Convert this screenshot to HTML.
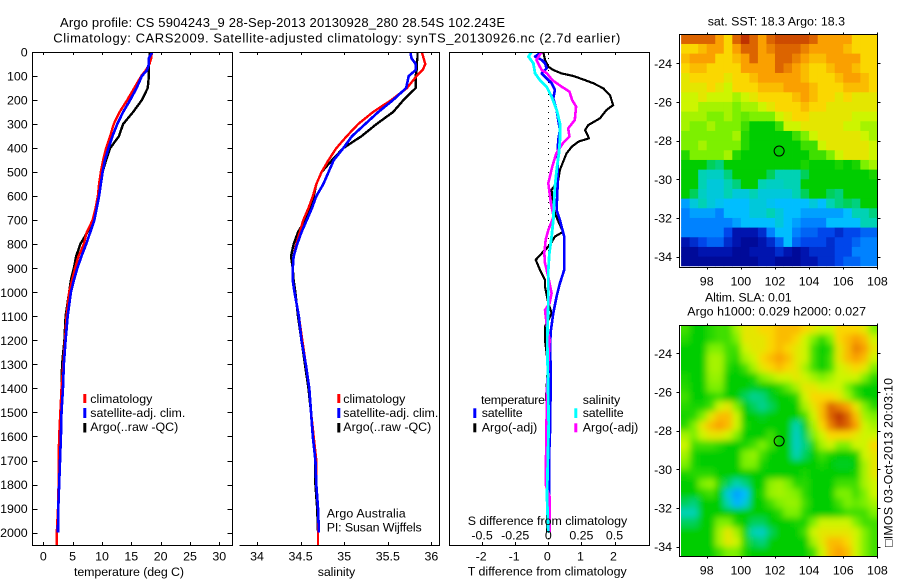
<!DOCTYPE html>
<html lang="en">
<head>
<meta charset="utf-8">
<title>Argo profile 5904243_9</title>
<style>
html,body{margin:0;padding:0;background:#fff;}
svg{display:block;}
text{font-family:"Liberation Sans",Arial,sans-serif;font-size:12.4px;fill:#000;}
text.title{font-size:13px;}
</style>
</head>
<body>
<svg id="figure" xmlns="http://www.w3.org/2000/svg" width="900" height="580" viewBox="0 0 900 580">
<defs>
<clipPath id="clip-sst"><rect x="681" y="34.3" width="196.4" height="232"/></clipPath>
<clipPath id="clip-sla"><rect x="681" y="325.9" width="196.4" height="230.5"/></clipPath>
<clipPath id="clip-p1"><rect x="33" y="52" width="199" height="493"/></clipPath>
<clipPath id="clip-p2"><rect x="239.5" y="52" width="200" height="493"/></clipPath>
<clipPath id="clip-p3"><rect x="449.5" y="52" width="200" height="493"/></clipPath>
<filter id="sla-blur" filterUnits="userSpaceOnUse" x="640" y="290" width="260" height="290"><feGaussianBlur stdDeviation="3.2"/></filter>
</defs>
<rect x="0" y="0" width="900" height="580" fill="#fff"/>
<text class="title" x="60" y="27" textLength="445" lengthAdjust="spacing">Argo profile: CS 5904243_9 28-Sep-2013 20130928_280 28.54S 102.243E</text>
<text class="title" x="53.3" y="42.5" textLength="567" lengthAdjust="spacing">Climatology: CARS2009. Satellite-adjusted climatology: synTS_20130926.nc (2.7d earlier)</text>

<g id="series-layer"></g>
<g id="axes-layer"></g>
<g id="map-layer"></g>

<text x="74" y="576" textLength="110" lengthAdjust="spacing">temperature (deg C)</text>
<text x="317.7" y="576" textLength="37.5" lengthAdjust="spacing">salinity</text>
<text x="467.7" y="575.7" textLength="159" lengthAdjust="spacing">T difference from climatology</text>
<text x="467.7" y="525" textLength="159.5" lengthAdjust="spacing">S difference from climatology</text>

<g>
<rect x="83.3" y="394" width="3" height="9" fill="#f00"/>
<rect x="83.3" y="408" width="3" height="10" fill="#00f"/>
<rect x="83.3" y="423" width="3" height="9.5" fill="#000"/>
<text x="90.3" y="403" textLength="62" lengthAdjust="spacing">climatology</text>
<text x="90.3" y="417" textLength="95" lengthAdjust="spacing">satellite-adj. clim.</text>
<text x="90.3" y="431" textLength="88" lengthAdjust="spacing">Argo(..raw -QC)</text>
</g>
<g>
<rect x="337.3" y="394" width="3" height="9" fill="#f00"/>
<rect x="337.3" y="408" width="3" height="10" fill="#00f"/>
<rect x="337.3" y="423" width="3" height="9.5" fill="#000"/>
<text x="343.3" y="403" textLength="62" lengthAdjust="spacing">climatology</text>
<text x="343.3" y="417" textLength="95" lengthAdjust="spacing">satellite-adj. clim.</text>
<text x="343.3" y="431" textLength="88" lengthAdjust="spacing">Argo(..raw -QC)</text>
</g>
<text x="326.7" y="517.3" textLength="79" lengthAdjust="spacing">Argo Australia</text>
<text x="326.7" y="531.7" textLength="95" lengthAdjust="spacing">PI: Susan Wijffels</text>

<g>
<text x="481" y="404" textLength="64" lengthAdjust="spacing">temperature</text>
<text x="582.7" y="404" textLength="37.5" lengthAdjust="spacing">salinity</text>
<rect x="473.3" y="408.3" width="3" height="9.7" fill="#00f"/>
<rect x="473.3" y="423.3" width="3" height="9" fill="#000"/>
<rect x="574.3" y="408.3" width="3" height="9.7" fill="#0ff"/>
<rect x="574.3" y="423.3" width="3" height="9" fill="#f0f"/>
<text x="481.7" y="417" textLength="41" lengthAdjust="spacing">satellite</text>
<text x="481.7" y="431.7" textLength="55.6" lengthAdjust="spacing">Argo(-adj)</text>
<text x="582.7" y="417" textLength="41" lengthAdjust="spacing">satellite</text>
<text x="582.7" y="431.7" textLength="55.6" lengthAdjust="spacing">Argo(-adj)</text>
</g>

<text x="707.7" y="25.3" textLength="137.3" lengthAdjust="spacing">sat. SST: 18.3 Argo: 18.3</text>
<text x="705" y="301.7" textLength="86.7" lengthAdjust="spacing">Altim. SLA: 0.01</text>
<text x="687.3" y="315.7" textLength="178.7" lengthAdjust="spacing">Argo h1000: 0.029 h2000: 0.027</text>
<text transform="translate(892.5,547) rotate(-90)" x="0" y="0" textLength="169" lengthAdjust="spacing">□IMOS 03-Oct-2013 20:03:10</text>
</svg>

<script>
// ---- Profile panels: shared depth grid (m) ----
const profileDepths = [0,25,50,75,100,150,200,250,300,350,400,450,500,550,600,650,700,750,800,850,900,950,1000,1100,1200,1300,1400,1500,1600,1700,1800,1900,2000,2055];

// Temperature (deg C)
const tempClimatology = [18.5,18.4,18.1,17.5,16.7,15.5,14.3,13.0,12.0,11.4,10.7,10.2,9.8,9.5,9.3,8.9,8.4,7.4,6.9,6.0,5.4,4.9,4.4,3.95,3.7,3.4,3.1,2.9,2.7,2.6,2.6,2.5,2.3,2.3];
const tempSatellite = [18.6,18.0,18.0,17.7,16.8,15.9,14.8,13.6,12.6,11.8,11.1,10.5,10.1,9.8,9.5,9.1,8.7,8.0,7.3,6.5,5.8,5.2,4.7,4.15,3.8,3.5,3.35,3.1,3.0,2.85,2.7,2.55,2.5];
const tempArgo = [18.2,18.1,18.0,18.0,18.0,17.8,16.8,15.3,13.6,12.9,11.4,10.7,10.1,9.8,9.5,9.1,8.7,7.5,6.3,5.6,5.2,4.7,4.4,3.8,3.6,3.2,3.1,2.95,2.85,2.6,2.7,2.5,2.4];

// Salinity
const salClimatology = [35.89,35.91,35.93,35.90,35.83,35.72,35.54,35.33,35.16,35.03,34.91,34.82,34.74,34.68,34.64,34.59,34.53,34.49,34.45,34.42,34.41,34.41,34.43,34.48,34.52,34.56,34.6,34.62,34.65,34.68,34.68,34.7,34.7,34.7];
const salSatellite = [35.76,35.77,35.82,35.82,35.74,35.71,35.56,35.39,35.24,35.09,34.99,34.88,34.82,34.76,34.68,34.63,34.57,34.51,34.46,34.42,34.41,34.41,34.43,34.48,34.51,34.56,34.6,34.62,34.64,34.67,34.68,34.7,34.71];
const salArgo = [35.84,35.84,35.83,35.83,35.82,35.82,35.68,35.56,35.37,35.2,34.99,34.86,34.74,34.68,34.65,34.61,34.55,34.47,34.42,34.39,34.41,34.42,34.44,34.47,34.51,34.55,34.59,34.62,34.64,34.67,34.67,34.69,34.7];

// Differences from climatology
const dtArgoDepths = [0,33,61,75,89,100,117,130,151,179,221,241,276,304,325,359,373,394,422,491,533,574,630,671,720,748,768,803,838,865,907,949,976,1046,1087,1143,1198,1300,1420,1650,1700,2000];
const dtArgo = [-0.15,-0.1,0,0.15,0.4,0.76,1.11,1.36,1.66,1.86,1.96,1.76,1.56,1.21,1.11,1.23,0.91,0.71,0.55,0.35,0.3,0.1,0.12,0.2,0.35,0.45,0.2,0.05,-0.2,-0.38,-0.25,-0.1,-0.1,0,0.1,-0.1,-0.1,-0.01,-0.06,-0.05,-0.06,-0.03];
const dtSatDepths = [0,19,33,47,68,89,110,130,158,193,241,283,325,366,422,491,560,657,699,768,907,963,1018,1087,1157,1198,1365,1550,1700,1850,2000];
const dtSat = [-0.2,-0.4,-0.2,-0.1,-0.05,-0.2,-0.05,0.1,0.2,0.15,0.25,0.3,0.35,0.3,0.28,0.28,0.28,0.25,0.35,0.48,0.48,0.35,0.25,0.15,0.08,0.06,0.07,0.06,0.02,0.02,0.04];
const dsArgoDepths = [0,33,75,89,117,144,165,200,227,283,318,352,380,422,477,546,630,685,741,782,838,879,935,1004,1046,1074,1143,1198,1400,1800,1850,2000];
const dsArgo = [-0.05,-0.09,-0.05,-0.01,0.03,0.1,0.16,0.18,0.21,0.2,0.15,0.16,0.11,0.06,0.03,0,0.02,0.04,0,-0.02,-0.03,-0.025,0,0.025,0.01,-0.025,-0.01,0.01,-0.01,-0.02,0.01,0.01];
const dsSatDepths = [0,19,47,89,117,144,186,241,297,366,422,491,560,630,699,768,838,907,1046,1198,1365,1545,1850,2000];
const dsSat = [-0.126,-0.15,-0.113,-0.1,-0.063,-0.013,0.025,0.063,0.088,0.088,0.08,0.063,0.05,0.043,0.038,0.025,0.008,0,0,-0.008,-0.003,0.003,-0.01,0];

// Tick labels
const depthTicks = [0,100,200,300,400,500,600,700,800,900,1000,1100,1200,1300,1400,1500,1600,1700,1800,1900,2000];
const tempTicks = [0,5,10,15,20,25,30];
const salTicks = [34,34.5,35,35.5,36];
const dtTicks = [-2,-1,0,1,2];
const dsTicks = [-0.5,-0.25,0,0.25,0.5];
const lonTicks = [98,100,102,104,106,108];
const latTicks = [-24,-26,-28,-30,-32,-34];

// Float position
const argoLon = 102.243;
const argoLat = -28.54;

// SST map, colour levels on 0.5 degree cells (north to south)
const sstGrid = [
[11,11,11,11,10,9,11,12,11,10,11,11.5,11.5,11.5,11.5,11,10,10,10,10,9,9,9],
[9,9,9.5,10,10,9,10,11,11,10,10.5,11,11,11,10.5,10,10,10,10,9.5,9,9,9],
[9.5,10,10,10,9,9,9.5,10,11,10,10,11,11,10.5,10,9.5,9.5,10,10,10,10,9,9],
[9,9.5,9.5,9,9,9,9,10,10,10,10,11,10.5,10,9.5,9,9,9.5,10,10,9.5,9,9],
[8.5,9,9,9,9,8.5,9,9,9.5,10,10,10,10,10,9.5,9,9,9,9.5,10,10,9.5,9],
[8.5,8.5,8.5,9,8.5,8,9,9,9,9.5,9.5,9.5,10,10,10,9.5,9,9,9,9.5,9.5,9.5,9],
[8,8,8.5,8,8,8,7.5,8,8.5,9,9,9,9,9.5,10,9.5,9,9,8.5,9,8.5,8.5,8.5],
[8,8,7.5,7.5,7.5,7.5,7,7.5,7.5,8,8.5,9,9,9,9.5,9,9,8.5,8.5,8.5,8.5,8.5,8.5],
[7.5,7.5,7.5,7,7,7.5,7,6.8,7,7,7,8,8.5,9,9,8.5,8.5,8.5,8.5,8.5,8,8,8],
[7.5,7,7,7.5,7,7,7,6.5,6,6,6,6.5,8,8,8.5,8.5,8.5,8.5,8.5,8,8,7.5,7.5],
[7,7,7,7,7,7,7.5,6.3,6,6,6,6,6,6.5,7,8,8.5,8.5,8.5,8.5,8.5,8,7.5],
[7,7,7.5,7,7,7,7,6.3,6,6,6,6,6,6,6.5,6.5,8,8.5,8.5,8.5,8.5,8.5,8],
[6.3,7,7,7,7,7.5,6.3,6,6,6,6,6,6,6,6,6.5,6.5,7,8,8.5,8.5,8.5,8],
[6,6,6,5.5,5.3,6,6,6,6,6,6,6,6,6,6.2,6,6,6,6.2,6,6.2,7,7.5],
[6,6,5,4.8,4.8,5.3,6,6,6,6,5.5,5,5,5,5.5,6,6,6,6,6,6,6,6.2],
[6,6,5,4.5,4.5,5,5.3,6,6,5,4.8,4.8,5,5,6,6,6,6,6,6,6,6,6],
[6,5.5,4.8,4.5,4.5,5,4.5,4.5,5,4.5,4.5,4.5,4.5,5,5.5,6,6,5.5,5.3,6,6,6,6],
[3.5,4.5,5,4.5,4.2,4,4,4,4.5,4.5,4.2,4,4,4,4,4.5,4,5,5.3,5.5,5.3,6,6],
[3,3.5,3.5,3.5,3,4,4,4,4.5,4.5,5,4.5,4,4,3.5,3.5,3.5,3.5,3.5,4,5,5,5.3],
[3,3,3,3,3,3,3.5,4,4,4,4,4.5,4,3.5,3,3,3,4,4,4,4,5,5],
[3,3,3,3,3,2,1,1,1,1.5,3,4,4,3,2.5,2.5,2,2,1.5,2,2,2.5,2.5],
[1,1.5,2,2.5,2.5,1.5,1,0.5,0.5,1,1.5,2.5,4,2.5,2,2,2,1.5,2,2,2.5,3,3],
[0.5,0.5,1,1,1,1,0.5,0.5,1,1,1,1.5,1,0.5,1,1.5,1.5,1.5,2,2,3,3,3],
[0.5,0.5,0.5,0.5,0.5,0.5,0.5,0.5,0.5,1,1,0.5,0.5,0.5,1,1,1.5,1.5,2,2.5,2.5,3,3]
];

// Sea level anomaly map, colour levels on 0.5 degree cells (north to south)
const slaGrid = [
[6.5,6,6,6.3,6.5,6.5,7.5,8.5,8.5,9,9,9.5,9.5,9.5,9,8.5,8,8,9,9,9,8.5,7],
[6.3,6,6,6.3,6.5,6.5,7,8.5,8.5,8.5,9,9.5,9.5,9,8,7,6.3,7,9,9.5,10,9.5,8],
[6,6,6,7,7,6.5,6.5,8,8.5,8.5,9,9.5,9,8.5,8,6.5,6,6.3,8.5,9.5,10.5,10,8.5],
[6,6,6,7.5,7.5,6.5,6.3,7.5,8,9,9.5,10,9.5,8.5,8,6.5,6,6.5,8.5,9.5,10,9.5,8],
[6,6,6,7.5,7.5,6.3,6,6.5,7.5,8.5,9,9.5,9,8.5,7.5,6.5,6,6.5,8,8.5,9,8.5,7],
[6.2,6,6,7.3,7.3,6,6,6,6.2,7,7.5,8,8,8.5,8,7.5,7,7.5,8,8,8,7,6.3],
[6.3,6,6,7,7,6,6,6,5.8,6,6,6.3,6.8,7.5,8.5,8.5,8,8,8,7,6.3,6,6],
[6.5,6,6,6.3,6.5,6,6,5.5,5.2,5.3,5.8,6,6,6.3,8,9,9,9,8.5,7.5,6.5,6,6],
[6.3,6.2,6.2,6.5,8,8.5,7,6,5.5,5.2,5.5,6,6,6,7.5,8.5,9.5,11,10.5,10,8.5,7,6.3],
[6.2,6.3,7,8.5,9.5,9.5,8,6,6,5.8,6,6,6,6,6.5,8,9.5,11,12,11,9.5,7.5,7],
[6.3,7,8.5,9.5,10,9.5,8,6.2,6,6,6,6,6,5,5.8,7.5,9,10.5,11.5,11,10,8,7.5],
[7.5,7,8,8.5,8.5,8,7,6,6,6,6.5,6,6,4.8,5.5,7,8,9,9,9,8.5,8,8],
[8,6.5,6.5,6.5,6.3,6,6,6.2,6.5,7,6.5,6,6,4.8,5.3,6.3,7.5,8,7,7,8,8,9],
[7.5,6.2,6,6,6,6,6,7,7.3,6.5,6,6,6,5,5.5,6,6.5,6.2,6,6,6.2,8,8.5],
[7,6.2,6,6,6,6,6,7,7,6.2,6,6,6,6,6,6,6.2,6,5.8,5.8,6,7.5,8.5],
[6.2,6.3,6.3,6.3,6,6,6,6,6,6,6,6,6,6,6.2,6,6,6,6,6,6.2,7.5,8.5],
[6,6,7,7.3,6.3,5.5,5,5.3,6,6,7.2,7.5,7,6.3,6.3,6,6,6,6.5,6.5,6.5,7.5,8],
[6,6,6.3,6.5,6,4.5,3.5,4,6,6.2,7.3,7.5,7.3,7,6.3,6,6,6,7,7,6.5,7,8],
[5.5,5.3,6,6,6,5,3.8,4.5,6,6,6.5,7,7.3,7.3,6.5,6,6,6,6.5,7,6.8,7,7.5],
[5,5,6,6,6,6,6,6,6,6,6,6.3,7,7,6.3,6,6,6,6.2,6.5,6.5,6.5,7],
[5.5,5.5,6,6,7,7,6.2,6,5.5,5.5,6,6,6,6.2,6.2,7,8,8,8,8,7,6.5,6.5],
[6,6,6,6,7.5,8.5,7.5,6.2,5,4.8,5.5,6,6,6,6.5,8,8.5,8.5,8.5,8.5,8,7,6.5],
[6,6,6,6,7.5,8.5,8,6.3,5.5,5.3,6,6,6,6,6,7.5,8.5,9.5,9.5,9,8,7,6.5],
[6,6,6,6,6.5,7,7,6.2,6,6,6,6,6,6,6,6.5,8,9.5,10,9.5,8,7,6.5]
];

// Colour levels 0..12
const colourStops = [[0,0,130],[0,20,175],[0,70,235],[0,130,255],[0,190,255],[0,210,180],[0,205,0],[125,240,0],[205,245,0],[250,215,0],[250,160,0],[220,100,0],[190,50,0]];

const SVGNS = 'http://www.w3.org/2000/svg';
const seriesLayer = document.getElementById('series-layer');
const axesLayer = document.getElementById('axes-layer');
const mapLayer = document.getElementById('map-layer');

// Axis functions
const panelTop = 52, panelBottom = 545;
function yDepth(d){ return 52 + d * 0.2403; }
function xTemp(t){ return 43.3 + t * 5.867; }
function xSal(s){ return 257 + (s - 34) * 87.2; }
function xDT(t){ return 548.3 + t * 33.1; }
function xDS(s){ return 548.3 + s * 132.4; }
function xLon(l){ return 706.7 + (l - 98) * 17.07; }
function ySst(l){ return 63.3 + (-24 - l) * 19.33; }
function ySla(l){ return 353.3 + (-24 - l) * 19.33; }

function make(tag, attrs, parent){
  const e = document.createElementNS(SVGNS, tag);
  for (const k in attrs) e.setAttribute(k, attrs[k]);
  parent.appendChild(e);
  return e;
}
function colour(v){
  const clamped = Math.max(0, Math.min(colourStops.length - 1, v));
  const i = Math.min(colourStops.length - 2, Math.floor(clamped));
  const f = clamped - i;
  const a = colourStops[i], b = colourStops[i + 1];
  return 'rgb(' + [0,1,2].map(function(k){ return Math.round(a[k] + (b[k] - a[k]) * f); }).join(',') + ')';
}
function tickLine(parent, x1, y1, x2, y2){
  const t = make('line', {x1:x1, y1:y1, x2:x2, y2:y2, stroke:'#000', 'stroke-width':1, 'shape-rendering':'crispEdges'}, parent);
  
  
  return t;
}
function tickText(parent, x, y, label, anchor){
  const t = make('text', {x:x, y:y, 'text-anchor':anchor}, parent);
  t.textContent = label;
  
  
  return t;
}
function drawProfile(name, depths, values, xFn, color, width, clip){
  const n = Math.min(depths.length, values.length);
  const pts = [];
  for (let i = 0; i < n; i++) pts.push(xFn(values[i]).toFixed(2) + ',' + yDepth(depths[i]).toFixed(2));
  const p = make('polyline', {points:pts.join(' '), fill:'none', stroke:color, 'stroke-width':width, 'stroke-linejoin':'round', 'shape-rendering':'crispEdges', 'clip-path':'url(#' + clip + ')'}, seriesLayer);
  
  
}

// Zero reference in the difference panel
const zeroLine = make('line', {x1:xDT(0), y1:panelTop, x2:xDT(0), y2:panelBottom, stroke:'#000', 'stroke-width':1, 'stroke-dasharray':'1 5', 'shape-rendering':'crispEdges'}, seriesLayer);



// Series
drawProfile('temperature-argo-line', profileDepths, tempArgo, xTemp, '#000', 2.4, 'clip-p1');
drawProfile('temperature-climatology-line', profileDepths, tempClimatology, xTemp, '#f00', 2.4, 'clip-p1');
drawProfile('temperature-satellite-line', profileDepths, tempSatellite, xTemp, '#00f', 2.6, 'clip-p1');
drawProfile('salinity-argo-line', profileDepths, salArgo, xSal, '#000', 2.4, 'clip-p2');
drawProfile('salinity-climatology-line', profileDepths, salClimatology, xSal, '#f00', 2.4, 'clip-p2');
drawProfile('salinity-satellite-line', profileDepths, salSatellite, xSal, '#00f', 2.6, 'clip-p2');
drawProfile('t-difference-argo-line', dtArgoDepths, dtArgo, xDT, '#000', 2.2, 'clip-p3');
drawProfile('t-difference-satellite-line', dtSatDepths, dtSat, xDT, '#00f', 2.6, 'clip-p3');
drawProfile('s-difference-argo-line', dsArgoDepths, dsArgo, xDS, '#f0f', 2.6, 'clip-p3');
drawProfile('s-difference-satellite-line', dsSatDepths, dsSat, xDS, '#0ff', 2.8, 'clip-p3');

// Panel frames
function hLine(parent, name, x1, x2, y){
  const l = make('line', {x1:x1, y1:y, x2:x2, y2:y, stroke:'#000', 'stroke-width':1, 'shape-rendering':'crispEdges'}, parent);
  
  
}
function vLine(parent, name, x, y1, y2){
  const l = make('line', {x1:x, y1:y1, x2:x, y2:y2, stroke:'#000', 'stroke-width':1, 'shape-rendering':'crispEdges'}, parent);
  
  
}
hLine(axesLayer, 'temperature-panel-top', 32.5, 232.5, 52.5);
hLine(axesLayer, 'temperature-panel-bottom', 32.5, 232.5, 545.5);
vLine(axesLayer, 'temperature-panel-left', 32.5, 52, 546);
vLine(axesLayer, 'temperature-panel-right', 232.5, 52, 546);
hLine(axesLayer, 'salinity-panel-top', 239.5, 439.5, 52.5);
hLine(axesLayer, 'salinity-panel-bottom', 239.5, 439.5, 545.5);
vLine(axesLayer, 'salinity-panel-right', 439.5, 52, 546);
hLine(axesLayer, 'difference-panel-top', 449.5, 649.5, 52.5);
hLine(axesLayer, 'difference-panel-bottom', 449.5, 649.5, 545.5);
vLine(axesLayer, 'difference-panel-left', 449.5, 52, 546);
vLine(axesLayer, 'difference-panel-right', 649.5, 52, 546);

// Depth ticks
depthTicks.forEach(function(d){
  const y = Math.round(yDepth(d)) + 0.5;
  tickLine(axesLayer, 32.5, y, 37.5, y);
  tickLine(axesLayer, 227.5, y, 232.5, y);
  tickText(axesLayer, 27.7, yDepth(d) + 4.5, String(d), 'end');
});
// Temperature ticks
tempTicks.forEach(function(t){
  const x = Math.round(xTemp(t)) + 0.5;
  tickLine(axesLayer, x, 52, x, 55);
  tickLine(axesLayer, x, 542, x, 545);
  tickText(axesLayer, xTemp(t), 560.7, String(t), 'middle');
});
// Salinity ticks
salTicks.forEach(function(s){
  const x = Math.round(xSal(s)) + 0.5;
  tickLine(axesLayer, x, 52, x, 55);
  tickLine(axesLayer, x, 542, x, 545);
  tickText(axesLayer, xSal(s), 560.7, String(s), 'middle');
});
// Difference ticks
dtTicks.forEach(function(t){
  const x = Math.round(xDT(t)) + 0.5;
  tickLine(axesLayer, x, 52, x, 55);
  tickLine(axesLayer, x, 542, x, 545);
  tickText(axesLayer, xDT(t) - 1, 560.3, String(t), 'middle');
});
dsTicks.forEach(function(s){
  tickText(axesLayer, xDS(s), 539.3, String(s), 'middle');
});

// Maps
function drawMap(name, grid, yFn, clipId, blur){
  const clip = make('g', {'clip-path':'url(#' + clipId + ')'}, mapLayer);
  
  
  const cells = make('g', blur ? {filter:'url(#sla-blur)'} : {}, clip);
  grid.forEach(function(row, r){
    row.forEach(function(v, c){
      const lonW = 96.5 + c * 0.5, latN = -22.5 - r * 0.5;
      let x0 = xLon(lonW), x1 = xLon(lonW + 0.5), y0 = yFn(latN), y1 = yFn(latN - 0.5);
      if (blur) {
        if (c === 0) x0 -= 14;
        if (c === row.length - 1) x1 += 14;
        if (r === 0) y0 -= 14;
        if (r === grid.length - 1) y1 += 14;
      }
      const cell = make('rect', {x:x0.toFixed(2), y:y0.toFixed(2), width:(x1 - x0 + 0.4).toFixed(2), height:(y1 - y0 + 0.4).toFixed(2), fill:colour(v)}, cells);
      
      
    });
  });
}
drawMap('sst-map', sstGrid, ySst, 'clip-sst', false);
drawMap('sla-map', slaGrid, ySla, 'clip-sla', true);

function drawMapFrame(name, yFn, top, bottom){
  const g = make('g', {}, mapLayer);
  
  
  hLine(g, name + '-top-edge', 679, 878, top);
  hLine(g, name + '-bottom-edge', 679, 878, bottom);
  vLine(g, name + '-left-edge', 679.5, top, bottom + 0.5);
  vLine(g, name + '-right-edge', 877.5, top, bottom + 0.5);
  lonTicks.forEach(function(l){
    const x = Math.round(xLon(l)) + 0.5;
    tickLine(g, x, top - 2, x, top);
    tickLine(g, x, bottom, x, bottom + 2);
    tickText(g, xLon(l), bottom + 18, String(l), 'middle');
  });
  latTicks.forEach(function(l){
    const y = Math.round(yFn(l)) + 0.5;
    tickLine(g, 676.5, y, 679.5, y);
    tickLine(g, 877.5, y, 880.5, y);
    tickText(g, 672, yFn(l) + 4.5, String(l), 'end');
  });
  const c = make('circle', {cx:xLon(argoLon), cy:yFn(argoLat), r:5, fill:'none', stroke:'#000', 'stroke-width':1}, g);
  
  
}
drawMapFrame('sst-map', ySst, 34.5, 267.5);
drawMapFrame('sla-map', ySla, 325.5, 556.5);
</script>
</body>
</html>
